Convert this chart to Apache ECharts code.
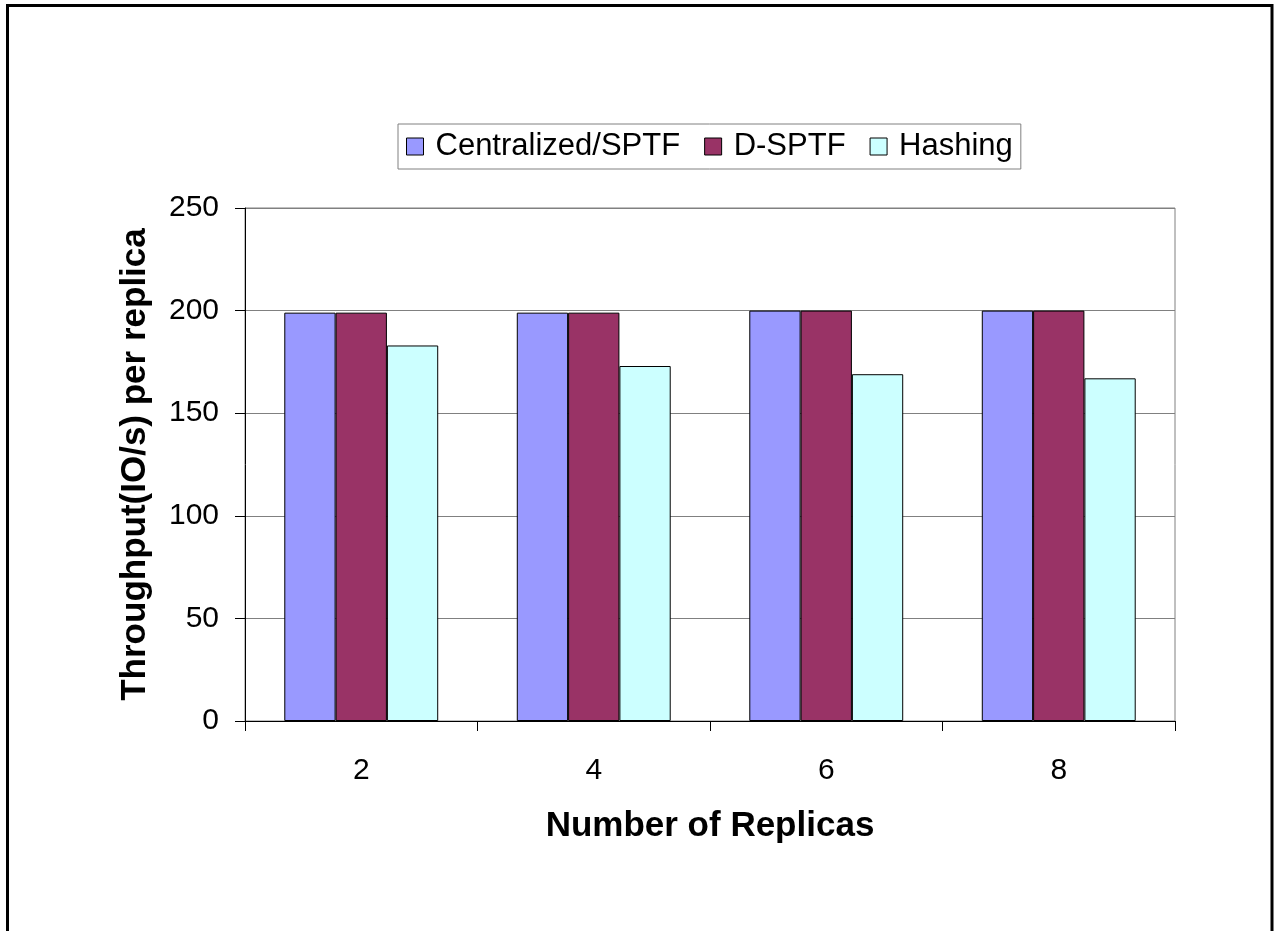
<!DOCTYPE html>
<html>
<head>
<meta charset="utf-8">
<title>Throughput per replica</title>
<script src="https://cdn.jsdelivr.net/npm/echarts@6/dist/echarts.min.js"></script>
<style>
  html, body { margin: 0; padding: 0; background: #fff; }
  #chart { width: 1274px; height: 931px; }
</style>
</head>
<body>
<div id="chart"></div>
<script>
// categories and series values
const replicas = ['2', '4', '6', '8'];
const centralized = [199, 199, 200, 200];
const dSptf = [199, 199, 200, 200];
const hashing = [183, 173, 169, 167];
const seriesNames = ['Centralized/SPTF', 'D-SPTF', 'Hashing'];

const chart = echarts.init(document.getElementById('chart'));
const font = '"Liberation Sans", Arial, sans-serif';

function barSeries(name, data, color) {
  return {
    name: name,
    type: 'bar',
    data: data,
    barGap: 0,
    barCategoryGap: '33.8%',
    itemStyle: { color: color, borderColor: '#000', borderWidth: 1 },
    emphasis: { disabled: true }
  };
}

const option = {
  animation: false,
  backgroundColor: '#fff',
  textStyle: { fontFamily: font },
  graphic: [{
    type: 'rect',
    shape: { x: 7.5, y: 5.5, width: 1264.5, height: 1000 },
    style: { fill: 'none', stroke: '#000', lineWidth: 3 },
    silent: true
  }],
  legend: {
    data: seriesNames,
    left: 398,
    top: 124,
    padding: [7, 8, 7, 8],
    itemWidth: 17,
    itemHeight: 17,
    itemGap: 24,
    icon: 'rect',
    borderColor: '#808080',
    borderWidth: 1,
    itemStyle: { borderColor: '#000', borderWidth: 1 },
    textStyle: { fontSize: 31, color: '#000', fontFamily: font, padding: [0, 0, 0, 7] }
  },
  grid: {
    left: 245,
    right: 99,
    top: 208,
    bottom: 210,
    show: true,
    borderColor: '#808080',
    borderWidth: 1
  },
  xAxis: {
    type: 'category',
    data: replicas,
    name: 'Number of Replicas',
    nameLocation: 'middle',
    nameGap: 88,
    nameTextStyle: { fontSize: 35, fontWeight: 'bold', color: '#000', fontFamily: font },
    axisLine: { lineStyle: { color: '#000', width: 1 } },
    axisTick: { show: true, length: 10, lineStyle: { color: '#000' } },
    axisLabel: { fontSize: 30, color: '#000', margin: 35, fontFamily: font }
  },
  yAxis: {
    type: 'value',
    min: 0,
    max: 250,
    interval: 50,
    name: 'Throughput(IO/s) per replica',
    nameLocation: 'middle',
    nameGap: 92,
    nameTextStyle: { fontSize: 35, fontWeight: 'bold', color: '#000', fontFamily: font },
    axisLine: { show: true, lineStyle: { color: '#000', width: 1 } },
    axisTick: { show: true, length: 10, lineStyle: { color: '#000' } },
    axisLabel: { fontSize: 30, color: '#000', margin: 26, fontFamily: font },
    splitLine: { show: true, lineStyle: { color: '#808080', width: 1 } }
  },
  series: [
    barSeries(seriesNames[0], centralized, '#9999FF'),
    barSeries(seriesNames[1], dSptf, '#993366'),
    barSeries(seriesNames[2], hashing, '#CCFFFF')
  ]
};

chart.setOption(option);
</script>
</body>
</html>
